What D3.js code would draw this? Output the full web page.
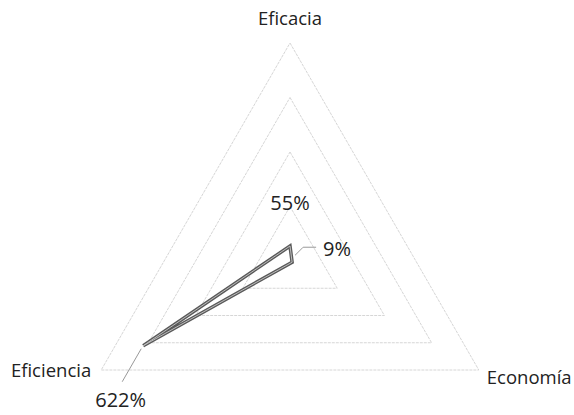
<!DOCTYPE html>
<html>
<head>
<meta charset="utf-8">
<script src="https://cdn.jsdelivr.net/npm/d3@7"></script>
<style>
	body { margin: 0; background: #fff; }
	text { font-family: "Open Sans", "Noto Sans", sans-serif; fill: #222; }
</style>
</head>
<body>
<svg width="574" height="415"></svg>
<script>
// data
var categories = ['Eficacia', 'Economía', 'Eficiencia'];
var values = [55, 9, 622];
var valueLabels = ['55%', '9%', '622%'];
var gridTicks = [200, 400, 600, 800];

var svg = d3.select('svg'),
	cx = 290,
	cy = 261,
	radius = 218;

var r = d3.scaleLinear().domain([0, 800]).range([0, radius]);

var angle = function(i) {
	return -Math.PI / 2 + i * 2 * Math.PI / categories.length;
};
var pt = function(v, i) {
	return [cx + r(v) * Math.cos(angle(i)), cy + r(v) * Math.sin(angle(i))];
};

var g = svg.append('g');

// grid triangles
g.selectAll('.grid')
	.data(gridTicks)
	.enter().append('polygon')
	.attr('class', 'grid')
	.attr('points', function(t) {
		return categories.map(function(c, i) { return pt(t, i).join(','); }).join(' ');
	})
	.attr('fill', 'none')
	.attr('stroke', '#d6d6d6')
	.attr('stroke-width', 1)
	.attr('stroke-dasharray', '3,1');

// series outline (double look of the scan)
var seriesPts = values.map(function(v, i) { return pt(v, i).join(','); }).join(' ');
g.append('polygon')
	.attr('points', seriesPts)
	.attr('fill', 'none')
	.attr('stroke', '#5a5a5a')
	.attr('stroke-width', 3.5);
g.append('polygon')
	.attr('points', seriesPts)
	.attr('fill', 'none')
	.attr('stroke', '#bdbdbd')
	.attr('stroke-width', 1);

// category labels
var catPos = [
	{dx: 0, dy: -18, anchor: 'middle'},
	{dx: 8, dy: 14, anchor: 'start'},
	{dx: -10, dy: 7, anchor: 'end'}
];
g.selectAll('.cat')
	.data(categories)
	.enter().append('text')
	.attr('class', 'cat')
	.attr('x', function(d, i) { return pt(800, i)[0] + catPos[i].dx; })
	.attr('y', function(d, i) { return pt(800, i)[1] + catPos[i].dy; })
	.attr('text-anchor', function(d, i) { return catPos[i].anchor; })
	.style('font-size', '18.5px')
	.text(function(d) { return d; });

// value labels with leader lines
var lblPos = [
	{dx: 0, dy: -36, anchor: 'middle'},
	{dx: 31, dy: -6, anchor: 'start'},
	{dx: -48, dy: 61, anchor: 'start'}
];
values.forEach(function(v, i) {
	var p = pt(v, i), L = lblPos[i];
	if (i === 1) {
		g.append('path')
			.attr('d', 'M' + (p[0] + 3) + ',' + (p[1] - 7) + 'L' + (p[0] + 11) + ',' + (p[1] - 15) + 'L' + (p[0] + 24) + ',' + (p[1] - 15))
			.attr('fill', 'none').attr('stroke', '#999').attr('stroke-width', 1);
	}
	if (i === 2) {
		g.append('line')
			.attr('x1', p[0] - 2).attr('y1', p[1] + 3)
			.attr('x2', p[0] - 21).attr('y2', p[1] + 36)
			.attr('stroke', '#999').attr('stroke-width', 1);
	}
	g.append('text')
		.attr('x', p[0] + L.dx)
		.attr('y', p[1] + L.dy)
		.attr('text-anchor', L.anchor)
		.style('font-size', '20px')
		.text(valueLabels[i]);
});
</script>
</body>
</html>
